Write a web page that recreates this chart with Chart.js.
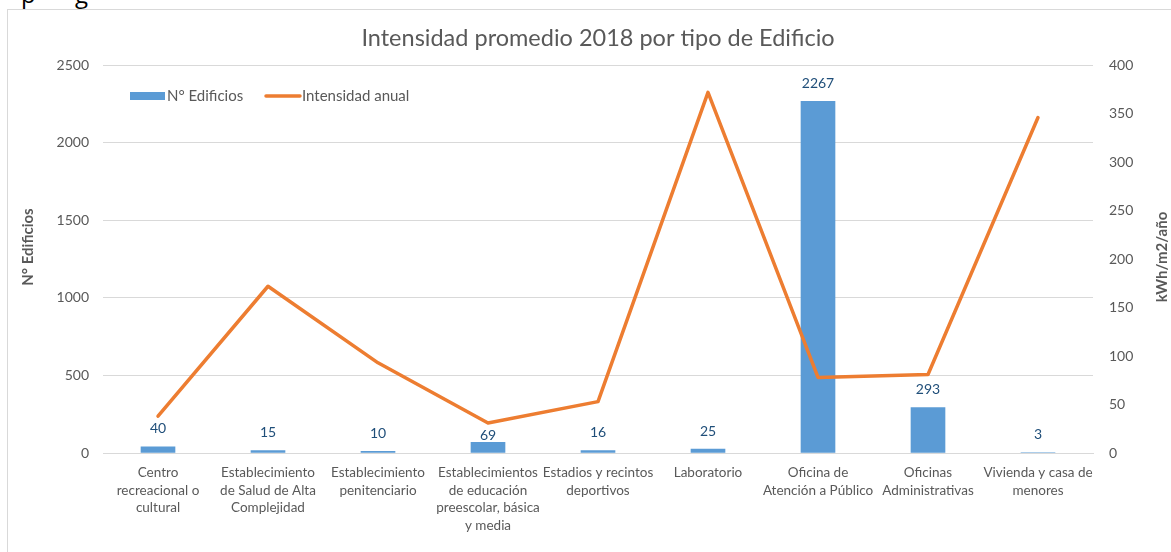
<!DOCTYPE html>
<html>
<head>
<meta charset="utf-8">
<script src="https://cdn.jsdelivr.net/npm/chart.js@4.4.0/dist/chart.umd.min.js"></script>
<style>
    html, body { margin: 0; padding: 0; background: #fff; overflow: hidden; }
    #wrap { position: relative; width: 1171px; height: 552px; }
    #frame { position: absolute; left: 7px; top: 9px; width: 1200px; height: 600px; border: 1px solid #d9d9d9; }
    .cut { position: absolute; top: -23px; font: 24px 'Open Sans', sans-serif; color: #000; }
    canvas { position: absolute; left: 0; top: 0; }
</style>
</head>
<body>
<div id="wrap">
    <div id="frame"></div>
    <span class="cut" style="left: 21px;">p</span>
    <span class="cut" style="left: 75px;">g</span>
    <canvas id="chart" width="1171" height="552"></canvas>
</div>
<script>
    // Categories (x axis labels, split into lines like the original)
    const categories = [
        ['Centro', 'recreacional o', 'cultural'],
        ['Establecimiento', 'de Salud de Alta', 'Complejidad'],
        ['Establecimiento', 'penitenciario'],
        ['Establecimientos', 'de educación', 'preescolar, básica', 'y media'],
        ['Estadios y recintos', 'deportivos'],
        ['Laboratorio'],
        ['Oficina de', 'Atención a Público'],
        ['Oficinas', 'Administrativas'],
        ['Vivienda y casa de', 'menores']
    ];

    // N° Edificios (left axis)
    const buildings = [40, 15, 10, 69, 16, 25, 2267, 293, 3];

    // Intensidad anual, kWh/m2/año (right axis)
    const intensity = [38, 172, 93, 31, 53, 372, 78, 81, 346];

    // Axis ranges
    const leftTicks = [0, 500, 1000, 1500, 2000, 2500];
    const rightTicks = [0, 50, 100, 150, 200, 250, 300, 350, 400];

    const textColor = '#595959';
    const barColor = '#5B9BD5';
    const lineColor = '#ED7D31';
    const fontFamily = 'Lato, "Open Sans", sans-serif';

    // Draws data labels, the legend inside the plot and both axis titles
    const extras = {
        id: 'extras',
        afterDraw: function (chart) {
            const ctx = chart.ctx;
            ctx.save();

            // value labels above the bars (the 69 label sits lower in the original)
            ctx.fillStyle = '#1F4E79';
            ctx.font = '14px ' + fontFamily;
            ctx.textAlign = 'center';
            ctx.textBaseline = 'middle';
            chart.getDatasetMeta(0).data.forEach(function (bar, i) {
                const lift = i === 3 ? 7 : 18;
                ctx.fillText(String(buildings[i]), bar.x, bar.y - lift);
            });

            // legend
            ctx.fillStyle = barColor;
            ctx.fillRect(130, 92, 35, 8);
            ctx.strokeStyle = lineColor;
            ctx.lineWidth = 3.5;
            ctx.lineCap = 'round';
            ctx.beginPath();
            ctx.moveTo(266, 96);
            ctx.lineTo(300, 96);
            ctx.stroke();
            ctx.fillStyle = textColor;
            ctx.font = '15px ' + fontFamily;
            ctx.textAlign = 'left';
            ctx.fillText('N° Edificios', 167, 96);
            ctx.fillText('Intensidad anual', 302, 96);

            // axis titles
            ctx.font = 'bold 15px ' + fontFamily;
            ctx.textAlign = 'center';
            ctx.translate(28, 247);
            ctx.rotate(-Math.PI / 2);
            ctx.fillText('N° Edificios', 0, 0);
            ctx.setTransform(1, 0, 0, 1, 0, 0);
            ctx.translate(1162, 257);
            ctx.rotate(-Math.PI / 2);
            ctx.fillText('kWh/m2/año', 0, 0);

            ctx.restore();
        }
    };

    new Chart(document.getElementById('chart'), {
        type: 'bar',
        data: {
            labels: categories,
            datasets: [{
                label: 'N° Edificios',
                data: buildings,
                backgroundColor: barColor,
                barThickness: 34,
                yAxisID: 'y',
                order: 1
            }, {
                type: 'line',
                label: 'Intensidad anual',
                data: intensity,
                borderColor: lineColor,
                borderWidth: 3.5,
                borderCapStyle: 'round',
                borderJoinStyle: 'round',
                pointRadius: 0,
                tension: 0,
                yAxisID: 'y1',
                order: 0
            }]
        },
        options: {
            responsive: false,
            animation: false,
            devicePixelRatio: 1,
            layout: { padding: 0 },
            plugins: {
                legend: { display: false },
                tooltip: { enabled: false },
                title: {
                    display: true,
                    fullSize: false,
                    text: 'Intensidad promedio 2018 por tipo de Edificio',
                    color: textColor,
                    font: { family: fontFamily, size: 23.5, weight: 'normal', lineHeight: 1.2 },
                    padding: { top: 24, bottom: 13 }
                }
            },
            scales: {
                x: {
                    grid: { display: false },
                    border: { color: '#d9d9d9' },
                    ticks: {
                        color: textColor,
                        font: { family: fontFamily, size: 13.5, lineHeight: 1.3 },
                        maxRotation: 0,
                        autoSkip: false,
                        padding: 3
                    },
                    afterFit: function (scale) { scale.height = 99; }
                },
                y: {
                    position: 'left',
                    min: leftTicks[0],
                    max: leftTicks[leftTicks.length - 1],
                    grid: { color: '#d9d9d9', drawTicks: false },
                    border: { display: false },
                    ticks: {
                        stepSize: leftTicks[1] - leftTicks[0],
                        color: textColor,
                        font: { family: fontFamily, size: 14 },
                        padding: 14,
                        callback: function (value) { return String(value); }
                    },
                    afterFit: function (scale) { scale.width = 103; }
                },
                y1: {
                    position: 'right',
                    min: rightTicks[0],
                    max: rightTicks[rightTicks.length - 1],
                    grid: { display: false, drawTicks: false },
                    border: { display: false },
                    ticks: {
                        stepSize: rightTicks[1] - rightTicks[0],
                        color: textColor,
                        font: { family: fontFamily, size: 14 },
                        padding: 16,
                        callback: function (value) { return String(value); }
                    },
                    afterFit: function (scale) { scale.width = 78; }
                }
            }
        },
        plugins: [extras]
    });
</script>
</body>
</html>
